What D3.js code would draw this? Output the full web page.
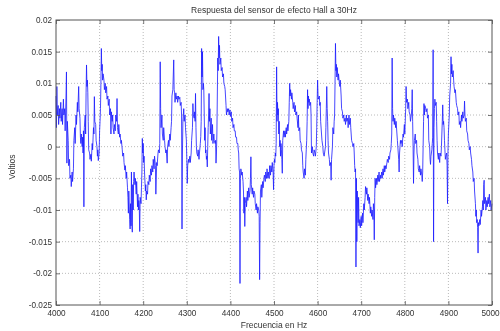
<!DOCTYPE html>
<html>
<head>
<meta charset="utf-8">
<script src="https://cdn.jsdelivr.net/npm/d3@7"></script>
<style>
  body { margin: 0; background: #fff; }
  svg { display: block; filter: blur(0.35px); }
  text { font-family: "Liberation Sans", Arial, sans-serif; }
</style>
</head>
<body>
<svg id="chart" width="500" height="331"></svg>
<script>
const title = 'Respuesta del sensor de efecto Hall a 30Hz';
const xLabel = 'Frecuencia en Hz';
const yLabel = 'Voltios';

const xTicks = [4000, 4100, 4200, 4300, 4400, 4500, 4600, 4700, 4800, 4900, 5000];
const yTicks = [0.02, 0.015, 0.01, 0.005, 0, -0.005, -0.01, -0.015, -0.02, -0.025];
const yTickLabels = ['0.02', '0.015', '0.01', '0.005', '0', '-0.005', '-0.01', '-0.015', '-0.02', '-0.025'];

// [frequency (Hz), millivolts]
const signal = [
  [4000, 8], [4001, 3], [4002, 9.5], [4003, 5], [4005, 6.5], [4006, 3.5], [4008, 6], [4009, 4.5],
  [4011, 7], [4012, 4], [4014, 6], [4015, 3.5], [4017, 7.5], [4018, 5], [4020, 6], [4021, 2.5],
  [4023, 8], [4024, 11.8], [4025, -2.6], [4026, 4], [4028, 1], [4029, -3], [4031, -2], [4032, -5],
  [4034, -4.5], [4035, -6.3], [4037, -4], [4038, -5.5], [4040, -3.5], [4041, 1], [4043, 3], [4044, 0.5],
  [4046, 5], [4047, 3.5], [4049, 7], [4050, 5.5], [4052, 9.5], [4053, 6], [4055, 4.5], [4056, 1.5],
  [4057, 0.5], [4058, 2], [4060, 0], [4061, 1.5], [4062, -1], [4063, 2.5], [4064, -9.5], [4065, 3],
  [4067, 5], [4068, 2], [4069, 8.5], [4070, 12.9], [4071, 9.5], [4072, 10.5], [4073, 8.5], [4074, 4],
  [4075, -0.5], [4077, -1], [4078, -2], [4080, -1.2], [4081, -2.3], [4083, 0.5], [4084, -0.5], [4086, 3],
  [4087, 2], [4088, 7.9], [4089, 4], [4091, 3.5], [4092, 1], [4094, 0], [4095, -1.5], [4096, -0.5],
  [4097, -2.2], [4099, -1], [4100, 2.5], [4101, 4], [4102, 6], [4103, 10], [4104, 15.5], [4105, 12],
  [4106, 13], [4107, 10.5], [4108, 11.5], [4110, 10.5], [4111, 9], [4113, 10], [4114, 8.5], [4116, 9.5],
  [4117, 7.5], [4119, 8], [4120, 6.5], [4122, 7.5], [4123, 5], [4125, 6], [4126, 2], [4127, 5.5],
  [4129, 4], [4130, 5], [4131, 3], [4133, 2], [4134, 3.5], [4136, 2.5], [4137, 5], [4139, 4],
  [4140, 7.6], [4141, 3], [4143, 2], [4144, 3.5], [4146, 1.5], [4147, 2], [4149, 0.5], [4150, 1],
  [4152, -0.5], [4153, -1.5], [4155, -1], [4156, -2.5], [4158, -3.7], [4159, -3], [4161, -5], [4162, -4],
  [4164, -6.5], [4165, -8], [4166, -10.5], [4167, -7], [4169, -11.5], [4170, -13], [4171, -9], [4172, -12.5],
  [4173, -4], [4174, -12], [4175, -13.5], [4176, -6], [4177, -10], [4178, -5.5], [4179, -4], [4181, -6],
  [4182, -5], [4184, -7.5], [4185, -5.5], [4187, -9.5], [4188, -7.5], [4189, -10], [4190, -8.5], [4191, -9.5],
  [4192, -13.4], [4193, -8], [4195, -9], [4196, -6.5], [4197, -4], [4198, 1.3], [4199, -1], [4200, 0.5],
  [4201, -2.5], [4202, -1.5], [4203, -4], [4205, -7], [4206, -6], [4207, -8.4], [4208, -7], [4210, -7.5],
  [4211, -5.5], [4213, -6], [4214, -4.5], [4216, -5.5], [4217, -3.5], [4219, -4.5], [4220, -3], [4222, -4],
  [4223, -2], [4225, -3.5], [4226, -1.5], [4228, -3], [4229, -7.5], [4231, -2.5], [4232, -3], [4234, -1],
  [4235, -0.5], [4237, -1], [4238, 0.5], [4239, 13.4], [4240, 6], [4241, 3], [4243, 5], [4244, 2],
  [4246, 1], [4247, 3], [4249, 1], [4250, 0], [4252, -1], [4253, -0.5], [4255, -2.6], [4256, 0],
  [4258, 1], [4259, 0], [4261, 2], [4262, 1], [4264, 3], [4265, 4], [4266, 8], [4268, 9],
  [4270, 13.7], [4271, 9], [4272, 8.5], [4273, 7], [4275, 8.5], [4276, 7.5], [4278, 8], [4279, 7],
  [4281, 8], [4282, 7.5], [4284, 7.8], [4285, 6.5], [4287, 7], [4288, 5], [4289, -13], [4290, -1],
  [4291, 4], [4293, 6], [4294, 4], [4296, 5], [4297, 3], [4299, 1], [4300, -2], [4301, -5.8],
  [4302, -3], [4304, -2], [4305, -2.5], [4307, -1.5], [4308, -2.5], [4310, -1], [4311, 1], [4313, 3],
  [4314, 6.8], [4315, 5], [4317, 4.5], [4318, 5.5], [4319, 4], [4320, 8.4], [4321, 3], [4322, 0],
  [4323, -1], [4325, -1.5], [4326, -0.5], [4328, -2], [4329, -1], [4331, 0.5], [4332, 1.6], [4333, 4],
  [4334, 15.5], [4335, 11], [4336, 15], [4337, 9], [4338, 10], [4339, 9], [4340, 5], [4341, 1],
  [4342, 3], [4343, -1], [4344, -0.5], [4345, -2], [4346, -1.5], [4347, -3.2], [4348, 0], [4349, 3],
  [4350, 5], [4351, 8.4], [4352, 4], [4353, 6], [4354, 2], [4356, 4.5], [4357, 1], [4359, 3.5],
  [4360, 0.5], [4362, 2], [4363, 1], [4365, 0.5], [4366, 1], [4367, -2.6], [4368, -1], [4369, 2],
  [4370, 8], [4371, 14], [4372, 12], [4373, 17.4], [4374, 14], [4375, 16], [4376, 13], [4378, 14],
  [4379, 12], [4381, 12.5], [4382, 11], [4384, 11.5], [4385, 10], [4387, 9.5], [4388, 9], [4390, 6.5],
  [4391, 5], [4393, 6], [4394, 5.5], [4396, 6], [4397, 5], [4399, 5.8], [4400, 4.8], [4402, 5.5],
  [4403, 4], [4405, 4.5], [4406, 3], [4408, 3.5], [4409, 2.5], [4411, 2.5], [4412, 1.5], [4414, 1.5],
  [4415, 0.5], [4417, 0.5], [4418, -0.5], [4419, -1], [4420, -3.5], [4421, -4], [4422, -21.6], [4423, -5],
  [4424, -3.5], [4426, -4.5], [4427, -4], [4429, -5.5], [4430, -7], [4431, -10.5], [4432, -8], [4433, -12.6],
  [4434, -9], [4436, -8], [4437, -9.5], [4439, -7], [4440, -8.5], [4442, -6.5], [4443, -8], [4445, -7],
  [4446, -5], [4447, -1.6], [4448, -6], [4450, -7.5], [4451, -6.5], [4453, -8], [4454, -7], [4456, -7.5],
  [4457, -9], [4459, -10], [4460, -9], [4462, -10.5], [4463, -9.5], [4465, -10], [4466, -11], [4467, -21],
  [4468, -12], [4469, -7], [4471, -6], [4472, -8], [4474, -5.5], [4475, -6.5], [4477, -5], [4478, -4.5],
  [4480, -5.5], [4481, -4], [4483, -5], [4484, -3.5], [4486, -5], [4487, -4], [4489, -5], [4490, -3],
  [4492, -4.5], [4493, -3], [4495, -4], [4496, -2.5], [4498, -4], [4499, -6.8], [4500, -3], [4501, -2],
  [4502, -2.5], [4503, -1], [4504, -1.5], [4505, 0.5], [4506, 12.6], [4507, 4], [4508, 7], [4509, 5],
  [4510, 6], [4511, 2], [4512, 4], [4513, 0], [4514, 1], [4515, -1.5], [4516, 0.5], [4517, -0.5],
  [4518, -2], [4519, -4.2], [4520, 1], [4522, 2.5], [4523, 1.5], [4525, 2.5], [4526, 1.5], [4528, 3],
  [4529, 2], [4531, 3.5], [4532, 2.5], [4534, 4], [4535, 7], [4536, 10], [4537, 8], [4538, 9],
  [4540, 7.5], [4541, 8.5], [4543, 7], [4544, 6], [4546, 7], [4547, 5.5], [4549, 6.5], [4550, 5],
  [4552, 5.5], [4553, 4.5], [4555, 3], [4556, 5], [4557, 2.5], [4559, 3], [4560, 1], [4562, 0.5],
  [4563, -0.5], [4565, -1], [4566, -3], [4567, -4], [4569, -5], [4570, -3.5], [4572, -4.5], [4573, -2],
  [4574, -0.5], [4575, 1], [4576, 4], [4577, 9], [4578, 6], [4579, 8], [4580, 7], [4581, 7.5],
  [4582, 6.5], [4584, 7], [4585, 5], [4586, -1], [4588, 0], [4589, -1], [4591, -1.5], [4592, -0.5],
  [4594, -1], [4595, -1.5], [4597, 0], [4598, 3], [4599, 7], [4600, 10.5], [4601, 8], [4602, 7.5],
  [4604, 8], [4605, 6.5], [4606, 7], [4607, 4], [4609, 2], [4610, 1], [4612, 0], [4613, -1],
  [4615, -1.5], [4616, -1], [4618, 0], [4619, 3], [4620, 6], [4621, 9.5], [4622, 6], [4623, 4],
  [4624, 1], [4625, -1], [4627, -2], [4628, -3], [4630, -2.5], [4631, -5.3], [4632, -2], [4634, 0],
  [4635, 3], [4637, 2], [4638, 4], [4639, 5], [4640, 10], [4641, 16.3], [4642, 12], [4643, 13],
  [4644, 11], [4645, 12.5], [4647, 10.5], [4648, 11.5], [4650, 10], [4651, 9.5], [4652, 10.5], [4654, 8],
  [4655, 6], [4657, 5.5], [4658, 4.5], [4660, 5], [4661, 4], [4663, 4.5], [4664, 3.5], [4666, 5],
  [4667, 4], [4669, 4.5], [4670, 3], [4672, 5], [4673, 3.5], [4675, 4.5], [4676, 3], [4677, 2],
  [4678, 1], [4680, 0.5], [4681, 0], [4683, 0.5], [4684, -1], [4685, -3], [4686, -4], [4687, -3.5],
  [4688, -19], [4689, -5], [4690, -15], [4691, -7], [4692, -10], [4693, -12], [4694, -8], [4695, -12.5],
  [4697, -11.5], [4698, -12.8], [4700, -11], [4701, -12.5], [4703, -10.5], [4704, -12], [4706, -9], [4707, -10],
  [4709, -8], [4710, -6.3], [4712, -7.5], [4713, -6.5], [4715, -8.5], [4716, -7.5], [4718, -9], [4719, -8],
  [4721, -10.5], [4722, -9.5], [4724, -11], [4725, -10], [4727, -11.5], [4728, -9], [4729, -10], [4730, -14.7],
  [4731, -8], [4732, -5], [4733, -6.5], [4735, -5], [4736, -6], [4738, -4.5], [4739, -5.5], [4741, -4],
  [4742, -5.5], [4744, -4.5], [4745, -5], [4747, -4], [4748, -5], [4750, -3.5], [4751, -4.5], [4753, -3],
  [4754, -4], [4756, -3], [4757, -3.5], [4759, -2.5], [4760, -2], [4762, -2.5], [4763, -1.5], [4765, -2],
  [4766, -1], [4768, -0.5], [4769, 0.5], [4770, 2], [4771, 14], [4772, 6], [4773, 4], [4774, 5],
  [4776, 3.5], [4777, 4.5], [4779, 3], [4780, 4], [4782, 2], [4783, 1], [4785, -1], [4786, -2],
  [4787, -4], [4788, -1], [4790, 1], [4791, 0.5], [4793, 1], [4794, 0], [4796, 2], [4797, 1.5],
  [4799, 3.5], [4800, 2], [4802, 6], [4803, 9.5], [4804, 7], [4806, 7.5], [4807, 6], [4809, 7],
  [4810, 5.5], [4812, 5], [4813, 4], [4815, 5], [4816, 6], [4817, 9], [4818, 4], [4819, 0],
  [4820, -5.8], [4821, -1], [4822, 1], [4824, 2], [4825, 0.5], [4827, 1], [4828, -1], [4830, -2],
  [4831, -3.5], [4833, -4], [4834, -3], [4836, -4.5], [4837, -3.5], [4839, -4.5], [4840, -5.5], [4841, -4],
  [4842, 0], [4843, 4], [4844, 6.8], [4845, 5], [4846, 6.5], [4848, 6], [4849, 5.5], [4851, 6],
  [4852, 4.5], [4854, 5], [4855, 1], [4857, 0], [4858, -2], [4859, -2.8], [4860, -1.5], [4862, -0.5],
  [4863, 0.5], [4864, 1.5], [4865, 15.3], [4866, -15], [4867, 3], [4868, 6], [4869, 7.5], [4870, 6.5],
  [4872, 7], [4873, 4], [4874, 1], [4875, -1], [4877, -2], [4878, -1], [4880, -2.5], [4881, -1],
  [4883, -1.5], [4884, 0], [4886, 4], [4887, 6.6], [4888, 3.5], [4889, 4], [4890, 3], [4891, 1],
  [4892, -0.5], [4893, -2], [4894, -1.5], [4896, -1], [4897, -3], [4898, -9], [4899, -1], [4900, 2],
  [4902, 5], [4903, 8], [4905, 10], [4906, 14.2], [4907, 11.5], [4908, 13], [4909, 11], [4911, 12],
  [4912, 10.5], [4913, 9.5], [4915, 8.5], [4916, 9], [4918, 7], [4919, 6.5], [4921, 6], [4922, 5],
  [4924, 5.5], [4925, 3.5], [4927, 4], [4928, 3], [4930, 5], [4931, 4], [4933, 5.5], [4934, 4.5],
  [4936, 5], [4937, 7.2], [4938, 5], [4939, 4], [4941, 4.5], [4942, 2.5], [4944, 2], [4945, 1],
  [4947, 0.5], [4948, -0.5], [4950, 0], [4951, -1], [4953, -2], [4954, -3], [4956, -4], [4957, -5.5],
  [4959, -5], [4960, -7], [4962, -9], [4963, -11], [4964, -10], [4965, -12], [4966, -11.5], [4967, -12.8],
  [4968, -16.8], [4969, -12], [4970, -12.5], [4972, -11.5], [4973, -12.3], [4975, -10], [4976, -11], [4978, -9.5],
  [4979, -8.5], [4980, -10], [4981, -6], [4982, -5.3], [4983, -9], [4985, -8], [4986, -10], [4988, -8.5],
  [4989, -9.5], [4991, -8], [4992, -9], [4994, -7.5], [4995, -9.5], [4997, -8.5], [4998, -10], [5000, -9]
];

const margin = { top: 20, right: 8, bottom: 26, left: 56 };
const width = 500, height = 331;
const innerW = width - margin.left - margin.right;
const innerH = height - margin.top - margin.bottom;

const svg = d3.select('#chart');
const g = svg.append('g').attr('transform', `translate(${margin.left},${margin.top})`);

const x = d3.scaleLinear().domain([4000, 5000]).range([0, innerW]);
const y = d3.scaleLinear().domain([-0.025, 0.02]).range([innerH, 0]);

// dotted grid
const grid = g.append('g').attr('class', 'grid');
grid.selectAll('line.gx')
  .data(xTicks.slice(1, -1))
  .join('line')
  .attr('class', 'gx')
  .attr('x1', d => x(d)).attr('x2', d => x(d))
  .attr('y1', 0).attr('y2', innerH);
grid.selectAll('line.gy')
  .data(yTicks.slice(1, -1))
  .join('line')
  .attr('class', 'gy')
  .attr('x1', 0).attr('x2', innerW)
  .attr('y1', d => y(d)).attr('y2', d => y(d));
grid.selectAll('line')
  .attr('stroke', '#a8a8a8')
  .attr('stroke-width', 0.8)
  .attr('stroke-dasharray', '1,2');

// signal trace
const line = d3.line()
  .x(d => x(d[0]))
  .y(d => y(d[1] / 1000));

g.append('path')
  .datum(signal)
  .attr('fill', 'none')
  .attr('stroke', '#1a1aff')
  .attr('stroke-width', 1)
  .attr('stroke-opacity', 0.8)
  .attr('stroke-linejoin', 'round')
  .attr('d', line);

// axes with inward ticks (MATLAB style)
const xAxis = d3.axisBottom(x).tickValues(xTicks).tickFormat(d3.format('d')).tickSizeInner(-4).tickSizeOuter(0).tickPadding(5);
const yAxis = d3.axisLeft(y).tickValues(yTicks).tickFormat((d, i) => yTickLabels[i]).tickSizeInner(-4).tickSizeOuter(0).tickPadding(4);

const gx = g.append('g').attr('transform', `translate(0,${innerH})`).call(xAxis);
const gy = g.append('g').call(yAxis);
g.append('g').call(d3.axisTop(x).tickValues(xTicks).tickSizeInner(-4).tickSizeOuter(0).tickFormat(''));
g.append('g').attr('transform', `translate(${innerW},0)`).call(d3.axisRight(y).tickValues(yTicks).tickSizeInner(-4).tickSizeOuter(0).tickFormat(''));

g.selectAll('.domain').remove();
g.selectAll('.tick line').attr('stroke', '#555').attr('stroke-width', 0.8);
g.selectAll('.tick text').attr('fill', '#333').attr('font-size', 8.2).attr('font-family', '"Liberation Sans", Arial, sans-serif');
gx.selectAll('.tick text').filter(d => d === 5000).attr('dx', -2);

g.append('rect')
  .attr('width', innerW).attr('height', innerH)
  .attr('fill', 'none').attr('stroke', '#555').attr('stroke-width', 1);

svg.append('text')
  .attr('x', margin.left + innerW / 2).attr('y', 13)
  .attr('text-anchor', 'middle').attr('font-size', 8.5).attr('fill', '#333')
  .text(title);

svg.append('text')
  .attr('x', margin.left + innerW / 2).attr('y', 328)
  .attr('text-anchor', 'middle').attr('font-size', 8.5).attr('fill', '#333')
  .text(xLabel);

svg.append('text')
  .attr('transform', `translate(15,167) rotate(-90)`)
  .attr('text-anchor', 'middle').attr('font-size', 8.5).attr('fill', '#333')
  .text(yLabel);
</script>
</body>
</html>
